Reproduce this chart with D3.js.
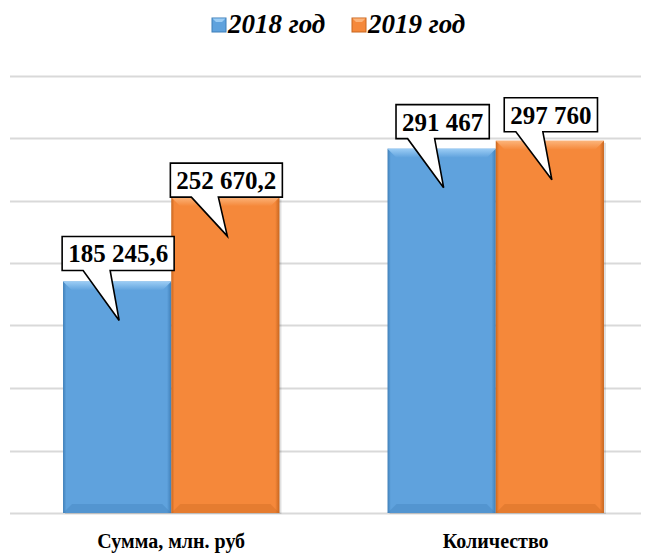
<!DOCTYPE html>
<html>
<head>
<meta charset="utf-8">
<script src="https://cdn.jsdelivr.net/npm/d3@7"></script>
<style>
  body { margin: 0; background: #fff; }
</style>
</head>
<body>
<div id="chart"></div>
<script>
// data
var categories = ["Сумма, млн. руб", "Количество"];
var seriesNames = ["2018 год", "2019 год"];
var values2018 = [185245.6, 291467];
var values2019 = [252670.2, 297760];
var labels2018 = ["185 245,6", "291 467"];
var labels2019 = ["252 670,2", "297 760"];
var yTicks = [0, 50000, 100000, 150000, 200000, 250000, 300000, 350000];

// layout tweaks for the callouts (gap between box and bar top), per category
var lift2018 = [11, 10];
var lift2019 = [0, 9];

var W = 651, H = 555;
var plotLeft = 10, plotRight = 641;
var serif = "'Liberation Serif'";

var svg = d3.select("#chart").append("svg")
    .attr("width", W)
    .attr("height", H);

var colors = ["#5fa2dd", "#f5883a"];
var lightColors = ["#9ccdf5", "#fcb47a"];
var darkColors = ["#3f7fb8", "#c8661f"];

// scales
var y = d3.scaleLinear().domain([0, 350000]).range([513, 75.5]);

var x0 = d3.scaleBand()
    .domain(categories)
    .range([9, 658])
    .paddingInner(0.333)
    .paddingOuter(0.1665);

var x1 = d3.scaleBand()
    .domain(seriesNames)
    .range([0, x0.bandwidth()]);

// gradients for bevel look
var defs = svg.append("defs");
colors.forEach(function (c, i) {
    var g = defs.append("linearGradient")
        .attr("id", "grad" + i)
        .attr("x1", 0).attr("x2", 1).attr("y1", 0).attr("y2", 0);
    g.append("stop").attr("offset", "0%").attr("stop-color", darkColors[i]);
    g.append("stop").attr("offset", "3%").attr("stop-color", c);
    g.append("stop").attr("offset", "96%").attr("stop-color", c);
    g.append("stop").attr("offset", "100%").attr("stop-color", darkColors[i]);
    var t = defs.append("linearGradient")
        .attr("id", "top" + i)
        .attr("x1", 0).attr("x2", 0).attr("y1", 0).attr("y2", 1);
    t.append("stop").attr("offset", "0%").attr("stop-color", lightColors[i]);
    t.append("stop").attr("offset", "100%").attr("stop-color", c);
});

function styleText(sel, size, italic) {
    return sel.style("font-family", serif)
        .style("font-weight", "bold")
        .style("font-style", italic ? "italic" : "normal")
        .style("font-size", size + "px")
        .attr("fill", "#000");
}

// gridlines
svg.append("g")
    .attr("class", "grid")
    .selectAll("line")
    .data(yTicks)
    .enter()
    .append("line")
    .attr("x1", plotLeft)
    .attr("x2", plotRight)
    .attr("y1", function (d) { return Math.round(y(d)) + 0.5; })
    .attr("y2", function (d) { return Math.round(y(d)) + 0.5; })
    .attr("stroke", "#d9d9d9")
    .attr("stroke-width", 2);

// build rows for bars
var rows = [];
categories.forEach(function (cat, i) {
    rows.push({ cat: cat, s: 0, name: seriesNames[0], v: values2018[i], label: labels2018[i], lift: lift2018[i] });
    rows.push({ cat: cat, s: 1, name: seriesNames[1], v: values2019[i], label: labels2019[i], lift: lift2019[i] });
});

var bars = svg.append("g").attr("class", "bars");

rows.forEach(function (d) {
    var bx = x0(d.cat) + x1(d.name),
        bw = x1.bandwidth(),
        by = y(d.v),
        bh = y(0) - y(d.v);
    var g = bars.append("g");
    // shadow
    g.append("rect")
        .attr("x", bx + 2).attr("y", by + 2)
        .attr("width", bw).attr("height", bh - 1)
        .attr("fill", "#000").attr("opacity", 0.12);
    g.append("rect")
        .attr("x", bx).attr("y", by)
        .attr("width", bw).attr("height", bh)
        .attr("fill", "url(#grad" + d.s + ")");
    // top bevel
    var bev = 9;
    g.append("path")
        .attr("d", "M" + bx + "," + by + "L" + (bx + bw) + "," + by +
            "L" + (bx + bw - bev) + "," + (by + bev) + "L" + (bx + bev) + "," + (by + bev) + "Z")
        .attr("fill", "url(#top" + d.s + ")");
    // bottom bevel
    g.append("path")
        .attr("d", "M" + bx + "," + (by + bh) + "L" + (bx + bw) + "," + (by + bh) +
            "L" + (bx + bw - bev) + "," + (by + bh - bev) + "L" + (bx + bev) + "," + (by + bh - bev) + "Z")
        .attr("fill", darkColors[d.s]).attr("opacity", 0.35);
});

// callouts
var callouts = svg.append("g").attr("class", "callouts");
rows.forEach(function (d) {
    var cx = x0(d.cat) + x1(d.name) + x1.bandwidth() / 2 + 1,
        top = y(d.v);
    var g = callouts.append("g");
    var t = styleText(g.append("text"), 25, false)
        .attr("x", cx)
        .attr("text-anchor", "middle")
        .text(d.label);
    var tw = t.node().getComputedTextLength();
    var bw = tw + 12, bh = 34;
    var bottom = top - d.lift, bTop = bottom - bh;
    var left = cx - bw / 2, right = cx + bw / 2;
    var tipX = cx + 1, tipY = top + 39;
    var p = "M" + left + "," + bTop + "L" + right + "," + bTop + "L" + right + "," + bottom +
        "L" + (cx - 8) + "," + bottom + "L" + tipX + "," + tipY + "L" + (cx - 35) + "," + bottom +
        "L" + left + "," + bottom + "Z";
    g.insert("path", "text")
        .attr("d", p)
        .attr("fill", "#fff")
        .attr("stroke", "#000")
        .attr("stroke-width", 1.6)
        .attr("stroke-linejoin", "miter");
    t.attr("y", bTop + 26);
});

// category labels
styleText(svg.append("g")
    .selectAll("text")
    .data(categories)
    .enter()
    .append("text"), 20, false)
    .attr("x", function (d) { return x0(d) + x0.bandwidth() / 2; })
    .attr("y", 548)
    .attr("text-anchor", "middle")
    .text(function (d) { return d; });

// legend
var legendX = [212, 352];
var legend = svg.append("g").attr("class", "legend");
seriesNames.forEach(function (name, i) {
    var lg = legend.append("g").attr("transform", "translate(" + legendX[i] + ",18)");
    lg.append("rect")
        .attr("width", 14).attr("height", 14)
        .attr("fill", colors[i])
        .attr("stroke", darkColors[i]).attr("stroke-width", 1);
    lg.append("path")
        .attr("d", "M0.5,0.5L13.5,0.5L10,4L4,4Z")
        .attr("fill", lightColors[i]);
    styleText(lg.append("text"), 27, true)
        .attr("x", 16)
        .attr("y", 15)
        .text(name);
});
</script>
</body>
</html>
